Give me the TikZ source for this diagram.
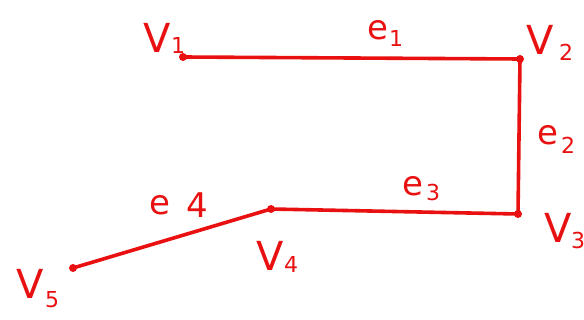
\documentclass[tikz,border=0pt]{standalone}
\usepackage{fontspec}
\setmainfont{DejaVu Sans}
\definecolor{pen}{RGB}{232,16,16}
\begin{document}
\begin{tikzpicture}[x=1pt,y=-1pt,
  edge/.style={draw=pen,line width=3.6pt,line cap=round,line join=round},
  vdot/.style={circle,fill=pen,inner sep=0pt,minimum size=8pt},
  lbl/.style={text=pen,font=\fontsize{40}{40}\selectfont,inner sep=0pt},
  elbl/.style={text=pen,font=\fontsize{34}{34}\selectfont,inner sep=0pt},
  sub/.style={text=pen,font=\fontsize{22}{22}\selectfont,inner sep=0pt}]
\useasboundingbox (0,0) rectangle (584,320);
\node[vdot] (v1) at (183,57) {};
\node[vdot] (v2) at (520,59) {};
\node[vdot] (v3) at (518,214) {};
\node[vdot] (v4) at (271,209) {};
\node[vdot] (v5) at (73,268) {};
\draw[edge] (v1.center) -- (v2.center) -- (v3.center) -- (v4.center) -- (v5.center);
\node[lbl] (l1) at (157,38) {V};
\node[sub] (l1s) at (178,45) {1};
\node[lbl] (l2) at (540,40) {V};
\node[sub] (l2s) at (566,52) {2};
\node[lbl] (l3) at (558,228) {V};
\node[sub] (l3s) at (578,240) {3};
\node[lbl] (l4) at (270,256) {V};
\node[sub] (l4s) at (291,264) {4};
\node[lbl] (l5) at (30,284) {V};
\node[sub] (l5s) at (52,300) {5};
\node[elbl] (e1) at (378,30) {e};
\node[sub] (e1s) at (396,38) {1};
\node[elbl] (e2) at (548,135) {e};
\node[sub] (e2s) at (568,145) {2};
\node[elbl] (e3) at (413,186) {e};
\node[sub] (e3s) at (433,192) {3};
\node[elbl] (e4) at (160,205) {e};
\node[elbl] (e4s) at (197,205) {4};
\end{tikzpicture}
\end{document}
